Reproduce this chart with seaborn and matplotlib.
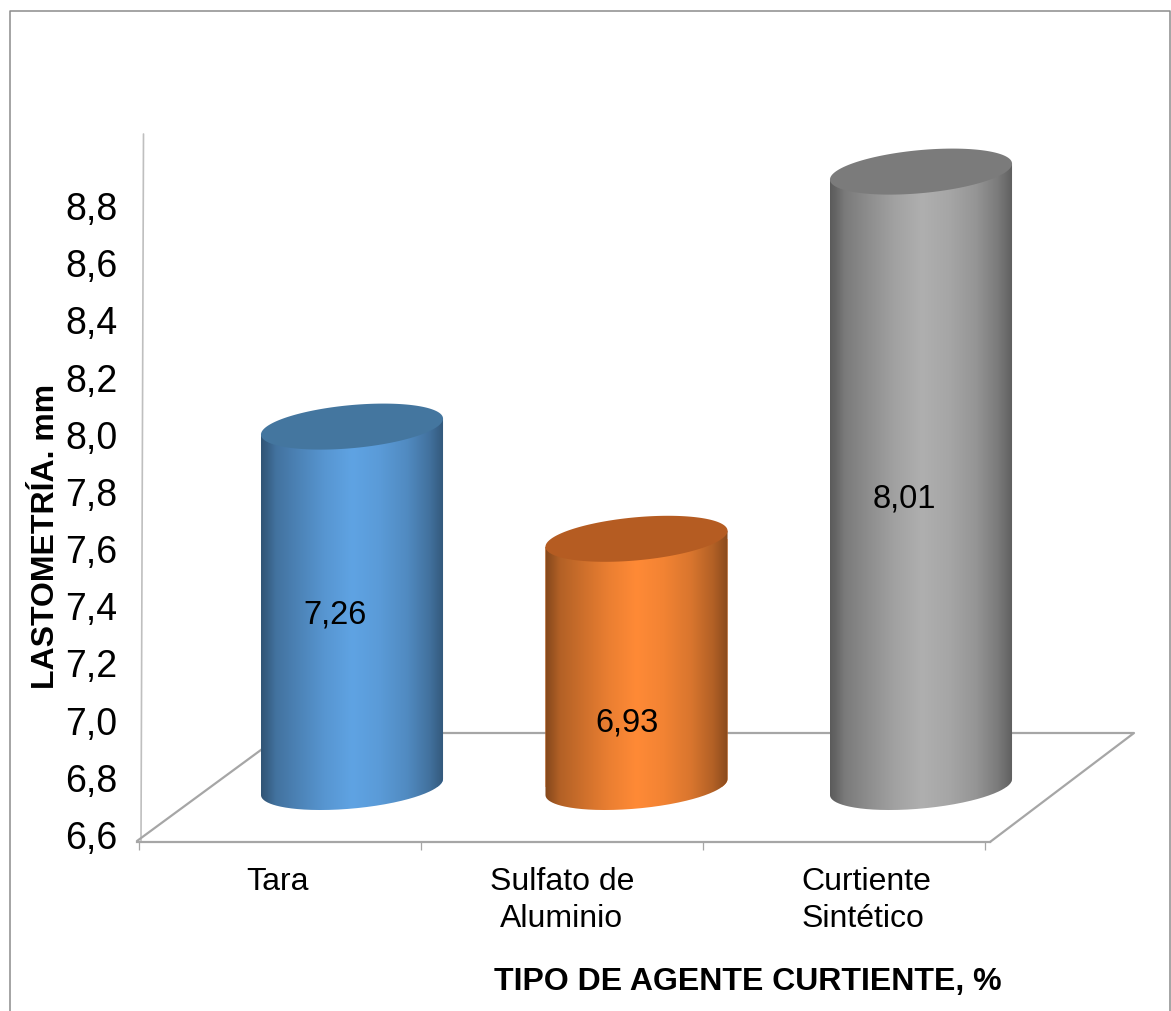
import numpy as np
import pandas as pd
import matplotlib
matplotlib.use("Agg")
import matplotlib.pyplot as plt
from matplotlib.path import Path
from matplotlib.ticker import FuncFormatter
import seaborn as sns

# ---- data ----
categories = ["Tara", "Sulfato de\nAluminio", "Curtiente\nSintético"]
values = [7.26, 6.93, 8.01]
bar_colors = ["#5FA3E3", "#FF8A36", "#AFAFAF"]
cap_colors = ["#44769F", "#B55C22", "#7B7B7B"]
y_ticks = [6.6, 6.8, 7.0, 7.2, 7.4, 7.6, 7.8, 8.0, 8.2, 8.4, 8.6, 8.8]
x_label = "TIPO DE AGENTE CURTIENTE, %"
y_label = "LASTOMETRÍA. mm"

W, H = 1171, 1011
sns.set_theme(style="white")
plt.rcParams["font.family"] = ["Liberation Sans", "DejaVu Sans"]
plt.rcParams["axes.unicode_minus"] = False
fig = plt.figure(figsize=(W / 100, H / 100), dpi=100, facecolor="white")

def bounds(x0, ytop, x1, ybot):
    return [x0 / W, 1 - ybot / H, (x1 - x0) / W, (ybot - ytop) / H]

# ---- pixel layer: frame and 3D floor ----
axp = fig.add_axes([0, 0, 1, 1], zorder=0)
axp.set_xlim(0, W); axp.set_ylim(H, 0); axp.axis("off")
GRAY = "#A6A6A6"
axp.plot([9.5, 9.5, 1170, 1170], [H, 10.5, 10.5, H], color="#8C8C8C", lw=1.1)
axp.plot([143.5, 141], [134, 841], color="#BFBFBF", lw=1.2)
axp.plot([137, 284, 1134, 990], [841, 733, 733, 842], color=GRAY, lw=1.6)

# ---- visible value axis ----
ax = fig.add_axes(bounds(137, 133, W, 835), zorder=1)
ax.patch.set_alpha(0)
px_unit_y = (835 - 206) / 2.2
ax.set_ylim(6.6, 6.6 + (835 - 133) / px_unit_y)
x_step, x_mid = 282.0, 280
ax.set_xlim((137 - x_mid) / x_step, (W - x_mid) / x_step)
for s in ["top", "right", "left"]:
    ax.spines[s].set_visible(False)
ax.spines["bottom"].set_position(("outward", 5.2))
ax.spines["bottom"].set_color(GRAY)
ax.spines["bottom"].set_linewidth(1.6)
ax.spines["bottom"].set_bounds((137 - x_mid) / x_step, (990 - x_mid) / x_step)
ax.set_yticks(y_ticks)
ax.yaxis.set_major_formatter(FuncFormatter(lambda v, _: f"{v:.1f}".replace(".", ",")))
ax.tick_params(axis="y", length=0, pad=14, labelsize=27, labelcolor="black")
ax.set_xticks([-0.5, 0.5, 1.5, 2.5])
ax.set_xticklabels([])
ax.tick_params(axis="x", which="major", bottom=True, length=5.5, width=0.9, color=GRAY, direction="out")
ax.set_xticks([-0.008, 1, 2.08], minor=True)
tick_texts = ax.set_xticklabels(categories, minor=True, fontsize=23, color="black", linespacing=1.29)
tick_texts[2].set_multialignment("left")
ax.tick_params(axis="x", which="minor", bottom=False, length=0, pad=18)
axp.text(748, 982, x_label, fontsize=23, fontweight="bold", ha="center", va="center", color="black")
axp.text(46, 536, y_label, fontsize=23, fontweight="bold", rotation=90, ha="center", va="center", color="black")

# ---- cylinders: seaborn bars on their own value scale ----
axb = fig.add_axes([0, 0, 1, 1], zorder=2)
df = pd.DataFrame({"agente": categories, "valor": values})
sns.barplot(data=df, x="agente", y="valor", hue="agente", palette=bar_colors,
            dodge=False, legend=False, width=0.64, ax=axb, saturation=1)
step_x, step_y = 284.5, 340.0
base_val, base_px, first_px = 6.2, 787, 352
xlim = (-first_px / step_x, (W - first_px) / step_x)
ylim = (base_val - (H - base_px) / step_y, base_val + base_px / step_y)

a, b, th = 91.4, 21.5, np.deg2rad(5.3)
tt = np.linspace(0, 2 * np.pi, 361)[:-1]
ex = (a * np.cos(tt) * np.cos(th) - b * np.sin(tt) * np.sin(th)) / step_x
ey = (a * np.cos(tt) * np.sin(th) + b * np.sin(tt) * np.cos(th)) / step_y
il, ir = int(np.argmin(ex)), int(np.argmax(ex))
seq = np.arange(il, il + 361) % 360
lower = seq[: np.where(seq == ir)[0][0] + 1]

stops = np.array([0, .03, .08, .20, .35, .50, .65, .80, .92, .97, 1])
shade = np.array([.52, .58, .70, .80, .92, 1, .95, .85, .70, .60, .54])
grad_x = np.linspace(0, 1, 256)

for patch, val, col, cap in zip(axb.patches, values, bar_colors, cap_colors):
    cx = patch.get_x() + patch.get_width() / 2
    patch.set_y(base_val)
    patch.set_height(val - base_val)
    patch.set_edgecolor("none")
    body_x = np.r_[cx + ex[lower], cx + ex[ir], cx + ex[il]]
    body_y = np.r_[base_val + ey[lower], val + ey[ir], val + ey[il]]
    body = Path(np.c_[body_x, body_y])
    patch.set_clip_path(body, axb.transData)
    rgb = np.array(matplotlib.colors.to_rgb(col))
    img = (np.interp(grad_x, stops, shade)[:, None] * rgb)[None, :, :]
    x0, x1 = cx + ex[il], cx + ex[ir]
    im = axb.imshow(img, extent=(x0, x1, base_val - 0.1, val + 0.1),
                    aspect="auto", interpolation="bilinear", origin="lower", zorder=3)
    im.set_clip_path(body, axb.transData)
    axb.fill(cx + ex, val + ey, color=cap, lw=0, zorder=4)

axb.set_xlim(*xlim)
axb.set_ylim(*ylim)
axb.axis("off")

# value labels, placed on the figure's pixel grid
label_x = [335, 627, 904]
label_y = [615, 723, 499]
for lx, ly, val in zip(label_x, label_y, values):
    axb.text(lx, ly, f"{val:.2f}".replace(".", ","), transform=axp.transData,
             fontsize=23.5, color="black", ha="center", va="center", zorder=5)

fig.savefig("out.png", dpi=100, facecolor="white")
